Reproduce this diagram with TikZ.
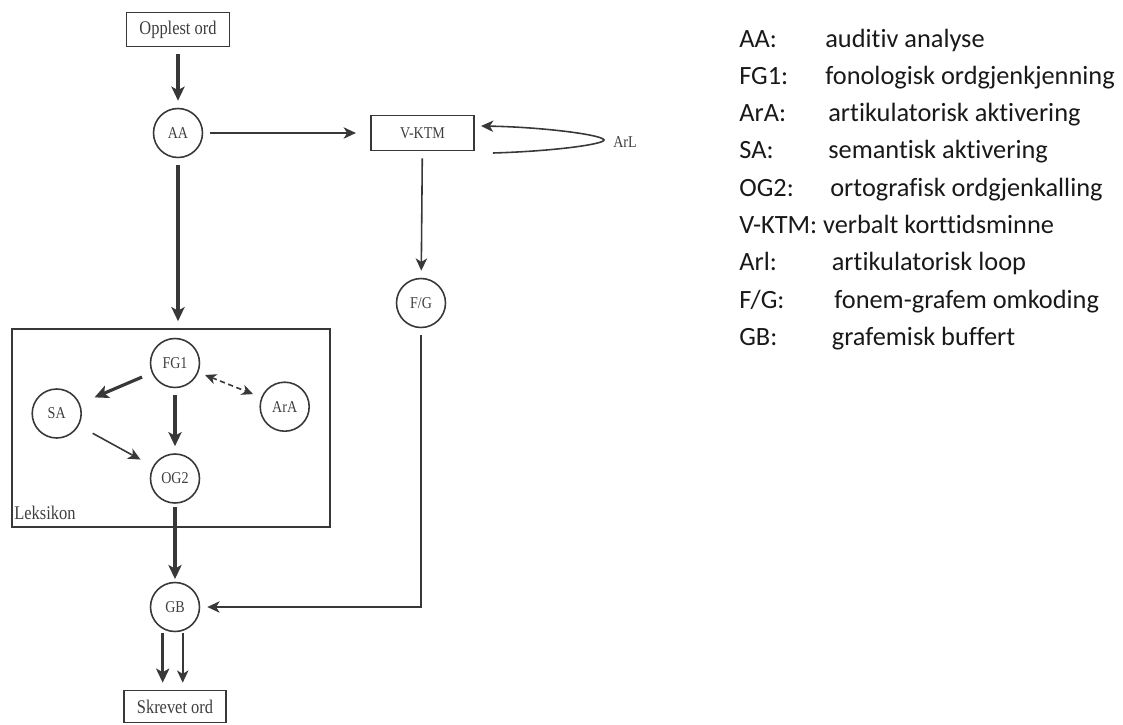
\documentclass[tikz,border=0pt]{standalone}
\usepackage{fontspec}
\setmainfont{Liberation Serif}
\newfontfamily\legendfont[Ligatures=NoCommon]{Carlito}
\usepackage{tikz}
\usetikzlibrary{arrows.meta,calc,positioning}
\definecolor{inkgray}{HTML}{383838}
\definecolor{textgray}{HTML}{3E3E3E}
% narrow serif lettering of the scanned figure
\newcommand{\nt}[1]{\scalebox{0.85}[1]{#1}}

\begin{document}
\begin{tikzpicture}[x=0.02cm,y=-0.02cm,
    box/.style={draw=inkgray,line width=0.9pt,text=textgray,inner sep=0pt,font=\fontsize{11}{12}\selectfont},
    circ/.style={draw=inkgray,line width=0.9pt,circle,minimum size=0.98cm,inner sep=0pt,text=textgray,font=\fontsize{9.4}{10}\selectfont},
    thickarrow/.style={draw=inkgray,line width=1.8pt,-{Stealth[length=8pt,width=7.5pt,inset=2pt]},shorten <=4pt,shorten >=4pt},
    thinarrow/.style={draw=inkgray,line width=0.9pt,-{Stealth[length=7pt,width=6.5pt,inset=2pt]},shorten <=4pt,shorten >=4pt},
    legendtext/.style={anchor=base west,inner sep=0pt,text=black!90,font=\legendfont\fontsize{15}{18}\selectfont}]
        \useasboundingbox (0,0) rectangle (1123,724);
        % the boxes and the circles
        \node[box,minimum width=2.06cm,minimum height=0.68cm] (opplest) at (178,29.5) {\nt{Opplest ord}};
        \node[circ] (AA) at (178,133) {\nt{AA}};
        \node[box,minimum width=2.07cm,minimum height=0.7cm,font=\fontsize{9.4}{10}\selectfont] (VKTM) at (422.5,133) {\nt{V-KTM}};
        \node[circ] (FG) at (421,303) {\nt{F/G}};
        \node[box,minimum width=6.36cm,minimum height=3.96cm] (lex) at (171,428) {};
        \node[anchor=base west,inner sep=0pt,text=textgray,font=\fontsize{11}{12}\selectfont] (lexlabel) at (14,519) {\nt{Leksikon}};
        \node[circ] (FGone) at (175,363) {\nt{FG1}};
        \node[circ] (SA) at (56.7,413.5) {\nt{SA}};
        \node[circ] (ArA) at (284.7,406.7) {\nt{ArA}};
        \node[circ] (OGtwo) at (175,478.5) {\nt{OG2}};
        \node[circ] (GB) at (175,607) {\nt{GB}};
        \node[box,minimum width=2.05cm,minimum height=0.64cm] (skrevet) at (175,706.5) {\nt{Skrevet ord}};
        \node[anchor=base west,inner sep=0pt,text=textgray,font=\fontsize{9.4}{10}\selectfont] (ArL) at (613,147.5) {\nt{ArL}};
        \coordinate (loopstart) at (493,153);
        \coordinate (loopturn) at (603,139);
        % the arrows
        \draw[thickarrow] (opplest) -- (AA);
        \draw[thickarrow] (AA.south) -- (AA.south |- lex.north);
        \draw[thinarrow,shorten >=8pt] (AA) -- (VKTM);
        \draw[thinarrow] (VKTM) -- (FG);
        \draw[thinarrow] (FG.south) |- (GB.east);
        \draw[thickarrow,shorten <=6pt,shorten >=9pt] (FGone) -- (SA);
        \draw[thickarrow] (FGone) -- (OGtwo);
        \draw[thinarrow,shorten <=9pt,shorten >=8pt] (SA) -- (OGtwo);
        \draw[draw=inkgray,line width=0.9pt,dash pattern=on 3pt off 2pt,{Stealth[length=6.5pt,width=6pt,inset=2pt]}-{Stealth[length=6.5pt,width=6pt,inset=2pt]},shorten <=4pt,shorten >=5pt] (FGone) -- (ArA);
        \draw[thickarrow,shorten <=2pt,shorten >=1.5pt] (OGtwo) -- (GB);
        \draw[thickarrow,shorten <=0.5pt] ([xshift=-7pt]GB.south) -- ([xshift=-7pt]GB.south |- skrevet.north);
        \draw[thinarrow,shorten <=0.5pt] ([xshift=4.4pt]GB.south) -- ([xshift=4.4pt]GB.south |- skrevet.north);
        % the articulatory loop
        \draw[thinarrow,shorten <=0pt,shorten >=0pt] (loopstart) .. controls (560,151) and (612,143) .. (loopturn) .. controls (596,134) and (540,127) .. ($(VKTM.east)+(6,-7)$);
        % legend
        \foreach \abbr/\desc/\dx [count=\i from 0] in {AA:/auditiv analyse/825,FG1:/fonologisk ordgjenkjenning/825,ArA:/artikulatorisk aktivering/828,SA:/semantisk aktivering/828,OG2:/ortografisk ordgjenkalling/830,{}/{}/825,Arl:/artikulatorisk loop/831.5,{F/G:}/fonem-grafem omkoding/834,GB:/grafemisk buffert/831.5} {
            \node[legendtext] (abbr\i) at (739,47+37.3*\i) {\abbr};
            \node[legendtext] (desc\i) at (\dx,47+37.3*\i) {\desc};
        }
        \node[legendtext] (vktmentry) at (739,47+37.3*5) {V-KTM: verbalt korttidsminne};
\end{tikzpicture}
\end{document}
